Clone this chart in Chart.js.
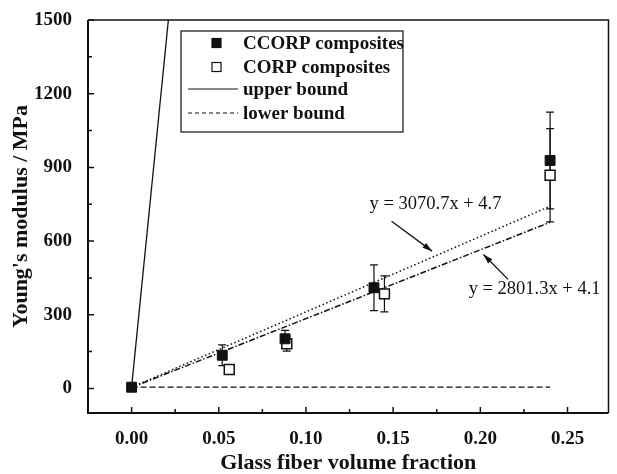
<!DOCTYPE html>
<html>
<head>
<meta charset="utf-8">
<script src="https://cdn.jsdelivr.net/npm/chart.js@4/dist/chart.umd.min.js"></script>
<style>
  html, body { margin: 0; padding: 0; background: #fff; }
  #wrap { width: 617px; height: 474px; }
</style>
</head>
<body>
<div id="wrap"><canvas id="myChart" width="617" height="474"></canvas></div>
<script>
// dati
const ccorpX = [0, 0.052, 0.088, 0.139, 0.24];
const ccorpY = [5, 135, 202, 410, 928];
const ccorpErr = [0, 42, 34, 93, 197];

const corpX = [0.056, 0.089, 0.145, 0.24];
const corpY = [77, 182, 385, 868];
const corpErr = [12, 30, 73, 190];

const upperX = [0, 0.0211];
const upperY = [5, 1500];
const lowerX = [0, 0.24];
const lowerY = [5, 5];

const fit1X = [0, 0.24];
const fit1Y = [4.7, 741.7];
const fit2X = [0, 0.24];
const fit2Y = [4.1, 676.4];

const xTicks = [0, 0.05, 0.10, 0.15, 0.20, 0.25];
const xMinor = [0.025, 0.075, 0.125, 0.175, 0.225];
const yTicks = [0, 300, 600, 900, 1200, 1500];
const yMinor = [150, 450, 750, 1050, 1350];

const fitLabels = ['y = 3070.7x + 4.7', 'y = 2801.3x + 4.1'];

const serif = "'Liberation Serif', 'Times New Roman', serif";

const pts = (xs, ys) => xs.map((x, i) => ({x: x, y: ys[i]}));

// setup
const data = {
    datasets: [{
        label: 'CCORP composites',
        data: pts(ccorpX, ccorpY),
        err: ccorpErr,
        pointStyle: 'rect',
        pointRadius: 7,
        backgroundColor: '#111',
        borderColor: '#111',
        borderWidth: 1
    }, {
        label: 'CORP composites',
        data: pts(corpX, corpY),
        err: corpErr,
        pointStyle: 'rect',
        pointRadius: 7,
        backgroundColor: '#fff',
        borderColor: '#111',
        borderWidth: 1.5
    }, {
        label: 'upper bound',
        data: pts(upperX, upperY),
        showLine: true,
        pointRadius: 0,
        borderColor: '#111',
        borderWidth: 1.3
    }, {
        label: 'lower bound',
        data: pts(lowerX, lowerY),
        showLine: true,
        pointRadius: 0,
        borderColor: '#111',
        borderWidth: 1.3,
        borderDash: [6, 3]
    }, {
        label: 'fit CCORP',
        data: pts(fit1X, fit1Y),
        showLine: true,
        pointRadius: 0,
        borderColor: '#111',
        borderWidth: 1.5,
        borderDash: [1.5, 2.5]
    }, {
        label: 'fit CORP',
        data: pts(fit2X, fit2Y),
        showLine: true,
        pointRadius: 0,
        borderColor: '#111',
        borderWidth: 1.5,
        borderDash: [6, 2, 1.5, 2]
    }]
};

// barre di errore sotto i simboli
const errorBars = {
    id: 'errorBars',
    beforeDatasetsDraw(chart) {
        const ctx = chart.ctx;
        const xs = chart.scales.x, ys = chart.scales.y;
        ctx.save();
        ctx.strokeStyle = '#111';
        ctx.lineWidth = 1.2;
        chart.data.datasets.forEach(ds => {
            if (!ds.err) return;
            ds.data.forEach((p, i) => {
                const e = ds.err[i];
                if (!e) return;
                const px = xs.getPixelForValue(p.x);
                const top = ys.getPixelForValue(p.y + e);
                const bot = ys.getPixelForValue(p.y - e);
                ctx.beginPath();
                ctx.moveTo(px, top); ctx.lineTo(px, bot);
                ctx.moveTo(px - 4, top); ctx.lineTo(px + 4, top);
                ctx.moveTo(px - 4, bot); ctx.lineTo(px + 4, bot);
                ctx.stroke();
            });
        });
        ctx.restore();
    }
};

function arrow(ctx, x1, y1, x2, y2) {
    const a = Math.atan2(y2 - y1, x2 - x1);
    ctx.beginPath();
    ctx.moveTo(x1, y1); ctx.lineTo(x2, y2);
    ctx.stroke();
    ctx.beginPath();
    ctx.moveTo(x2, y2);
    ctx.lineTo(x2 - 10 * Math.cos(a - 0.3), y2 - 10 * Math.sin(a - 0.3));
    ctx.lineTo(x2 - 10 * Math.cos(a + 0.3), y2 - 10 * Math.sin(a + 0.3));
    ctx.closePath();
    ctx.fill();
}

// cornice, tacche interne, legenda e annotazioni
const decor = {
    id: 'decor',
    afterDraw(chart) {
        const ctx = chart.ctx;
        const {left, right, top, bottom} = chart.chartArea;
        const xs = chart.scales.x, ys = chart.scales.y;
        ctx.save();
        ctx.strokeStyle = '#111';
        ctx.fillStyle = '#111';

        // cornice
        ctx.lineWidth = 1.5;
        ctx.beginPath();
        ctx.moveTo(left, top); ctx.lineTo(right, top); ctx.lineTo(right, bottom);
        ctx.stroke();
        ctx.lineWidth = 2;
        ctx.beginPath();
        ctx.moveTo(left, top); ctx.lineTo(left, bottom); ctx.lineTo(right, bottom);
        ctx.stroke();

        // tacche
        ctx.lineWidth = 1.5;
        ctx.beginPath();
        xTicks.forEach(v => { const p = xs.getPixelForValue(v); ctx.moveTo(p, bottom); ctx.lineTo(p, bottom - 6); });
        xMinor.forEach(v => { const p = xs.getPixelForValue(v); ctx.moveTo(p, bottom); ctx.lineTo(p, bottom - 4); });
        yTicks.forEach(v => { const p = ys.getPixelForValue(v); ctx.moveTo(left, p); ctx.lineTo(left + 6, p); });
        yMinor.forEach(v => { const p = ys.getPixelForValue(v); ctx.moveTo(left, p); ctx.lineTo(left + 4, p); });
        ctx.stroke();

        // legenda
        const lx = 181, ly = 31, lw = 222, lh = 101;
        ctx.fillStyle = '#fff';
        ctx.fillRect(lx, ly, lw, lh);
        ctx.fillStyle = '#111';
        ctx.lineWidth = 1.2;
        ctx.strokeRect(lx, ly, lw, lh);
        const rows = [43, 67, 89, 113];
        const ds = chart.data.datasets;
        ctx.font = 'bold 19px ' + serif;
        ctx.textBaseline = 'middle';
        ctx.textAlign = 'left';
        for (let i = 0; i < 4; i++) {
            const y = rows[i];
            const d = ds[i];
            ctx.save();
            if (i < 2) {
                ctx.fillStyle = d.backgroundColor;
                ctx.fillRect(212, y - 4.5, 9, 9);
                ctx.lineWidth = 1.2;
                ctx.strokeRect(212, y - 4.5, 9, 9);
            } else {
                ctx.lineWidth = 1.2;
                ctx.setLineDash(i === 3 ? [4, 3] : []);
                ctx.beginPath();
                ctx.moveTo(188, y); ctx.lineTo(238, y);
                ctx.stroke();
            }
            ctx.restore();
            ctx.fillText(d.label, 243, y + 1);
        }

        // annotazioni delle rette
        ctx.font = '18.5px ' + serif;
        ctx.fillText(fitLabels[0], xs.getPixelForValue(0.1365), ys.getPixelForValue(749));
        ctx.fillText(fitLabels[1], xs.getPixelForValue(0.1933), ys.getPixelForValue(403));
        ctx.lineWidth = 1.3;
        arrow(ctx, xs.getPixelForValue(0.1491), ys.getPixelForValue(681),
                   xs.getPixelForValue(0.1723), ys.getPixelForValue(559));
        arrow(ctx, xs.getPixelForValue(0.2159), ys.getPixelForValue(444),
                   xs.getPixelForValue(0.2018), ys.getPixelForValue(545));
        ctx.restore();
    }
};

// config
const config = {
    type: 'scatter',
    data,
    options: {
        responsive: false,
        animation: false,
        layout: { padding: { top: 20, right: 3, left: 0, bottom: 0 } },
        plugins: {
            legend: { display: false },
            tooltip: { enabled: false }
        },
        scales: {
            x: {
                type: 'linear',
                min: -0.025,
                max: 0.2735,
                afterFit: s => { s.height = 61; },
                afterBuildTicks: s => { s.ticks = xTicks.map(v => ({value: v})); },
                grid: { display: false },
                border: { display: false },
                ticks: {
                    padding: 7,
                    color: '#111',
                    font: { family: serif, size: 19, weight: 'bold' },
                    callback: v => Number(v).toFixed(2)
                },
                title: {
                    display: true,
                    text: 'Glass fiber volume fraction',
                    color: '#111',
                    padding: 0,
                    font: { family: serif, size: 22, weight: 'bold', lineHeight: 1 }
                }
            },
            y: {
                min: -100,
                max: 1500,
                afterFit: s => { s.width = 88; },
                afterBuildTicks: s => { s.ticks = yTicks.map(v => ({value: v})); },
                grid: { display: false },
                border: { display: false },
                ticks: {
                    padding: 8,
                    color: '#111',
                    font: { family: serif, size: 19, weight: 'bold' },
                    callback: v => String(v)
                },
                title: {
                    display: true,
                    text: "Young's modulus / MPa",
                    color: '#111',
                    padding: { top: 10, bottom: 0 },
                    font: { family: serif, size: 22, weight: 'bold', lineHeight: 1 }
                }
            }
        }
    },
    plugins: [errorBars, decor]
};

// avvio chart
const myChart = new Chart(document.getElementById('myChart'), config);
</script>
</body>
</html>
